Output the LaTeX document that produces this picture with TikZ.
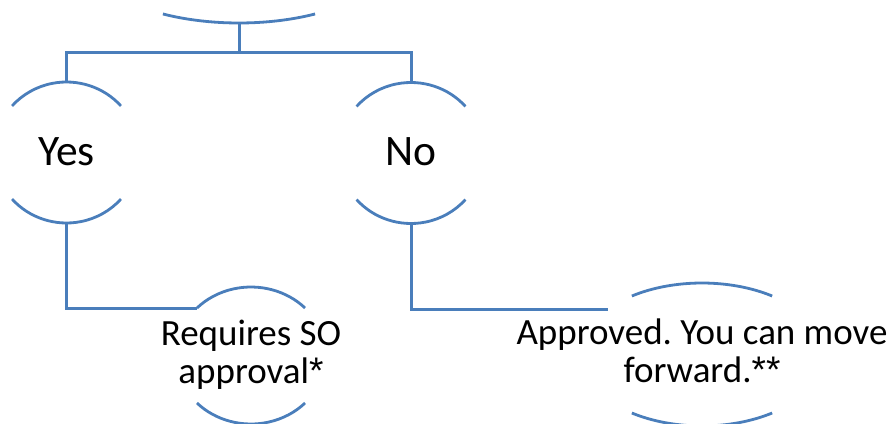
\documentclass[tikz,border=0pt]{standalone}
\usepackage{fontspec}
\setmainfont{Carlito}
\newfontfamily\astfont{Liberation Sans}
\usetikzlibrary{calc}
\frenchspacing
\definecolor{lineblue}{RGB}{74,126,187}
\newcommand\myast{{\astfont *}}
\tikzset{
  conn/.style={draw=lineblue, line width=3pt},
  arcline/.style={draw=lineblue, line width=2.8pt},
  bignode/.style={draw=none, shape=rectangle, inner sep=0pt, align=center,
    font=\fontsize{43.5}{52}\selectfont, text height=25pt, text depth=0pt},
  smallnode/.style={draw=none, shape=rectangle, inner sep=0pt, align=center,
    font=\fontsize{37}{38}\selectfont, text height=55pt, text depth=0pt},
}
\newcommand\nodearcs[4]{%
  \draw[arcline] ($(#1.center)+({#2*cos(#4)},{#3*sin(#4)})$)
     arc[start angle=#4, end angle=180-#4, x radius=#2pt, y radius=#3pt];
  \draw[arcline] ($(#1.center)+({-#2*cos(#4)},{-#3*sin(#4)})$)
     arc[start angle=180+#4, end angle=360-#4, x radius=#2pt, y radius=#3pt];}
\begin{document}
\begin{tikzpicture}[x=1pt,y=1pt]
\useasboundingbox (0,0) rectangle (893,-423);
% nodes
\node[bignode, minimum width=310pt, minimum height=140pt] (top) at (239,47) {};
\node[bignode, minimum width=145pt, minimum height=141pt] (yes) at (66.5,-152.5) {Yes};
\node[bignode, minimum width=145pt, minimum height=141pt] (no) at (411,-153) {No};
\node[smallnode, minimum width=150pt, minimum height=137pt] (req) at (251,-355.5) {Requires SO\\approval\myast};
\node[smallnode, minimum width=244pt, minimum height=143pt] (appr) at (702,-354.5) {Approved. You can move\\forward.\myast\myast};
% arcs
\draw[arcline] ($(top.center)+({-155*cos(60.6)},{-70*sin(60.6)})$)
   arc[start angle=240.6, end angle=299.4, x radius=155pt, y radius=70pt];
\nodearcs{yes}{72.5}{70.5}{41.3}
\nodearcs{no}{72.5}{70.5}{41.3}
\nodearcs{req}{75}{68.5}{43.9}
\nodearcs{appr}{122}{71.5}{54.9}
% connectors
\coordinate (reqin) at ($(req.center)+(-54,47.5)$);
\coordinate (apprin) at ($(appr.center)+(-94,45.5)$);
\draw[conn] (top.south) -- ++(0,-29) -| (yes.north);
\draw[conn] (top.south) -- ++(0,-29) -| (no.north);
\draw[conn] (yes.south) |- (reqin);
\draw[conn] (no.south) |- (apprin);
\end{tikzpicture}
\end{document}
